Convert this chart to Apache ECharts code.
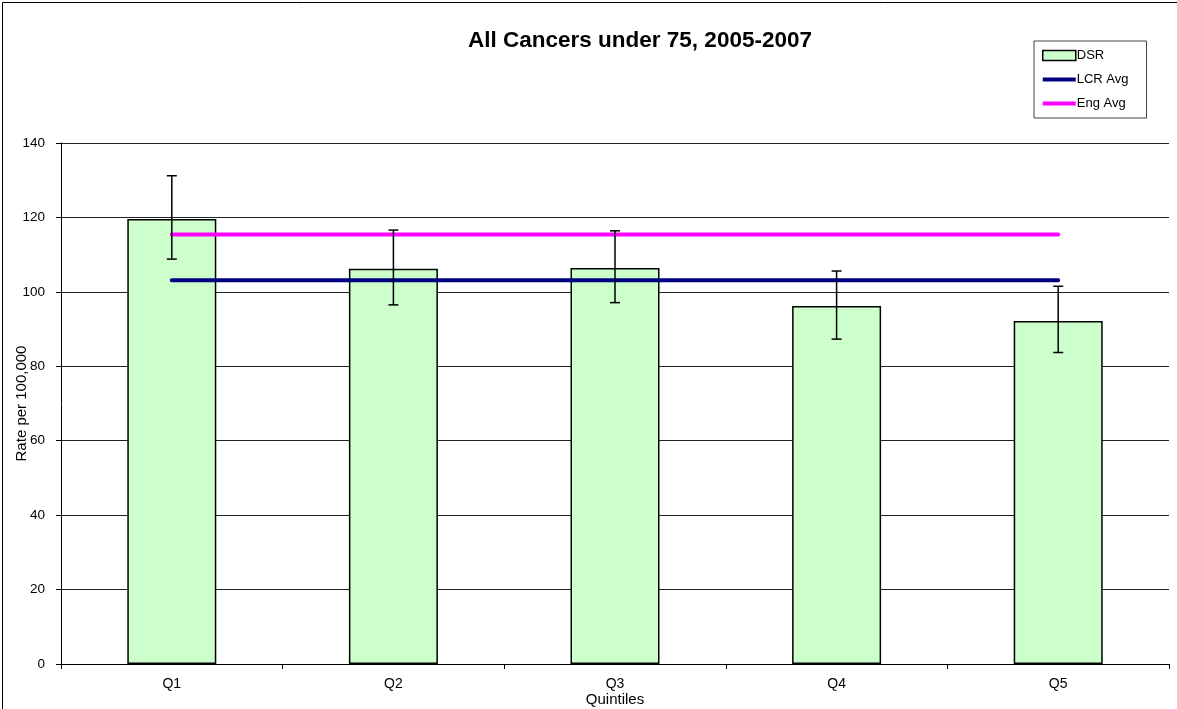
<!DOCTYPE html>
<html>
<head>
<meta charset="utf-8">
<script src="https://cdn.jsdelivr.net/npm/echarts@6/dist/echarts.min.js"></script>
<style>
html,body{margin:0;padding:0;background:#fff;}
#chart{width:1177px;height:709px;}
</style>
</head>
<body>
<div id="chart"></div>
<script>
const categories = ['Q1', 'Q2', 'Q3', 'Q4', 'Q5'];
const dsr = [119.6, 106.2, 106.4, 96.2, 92.2];
const ciLower = [108.8, 96.5, 97.1, 87.3, 83.7];
const ciUpper = [131.2, 116.6, 116.4, 105.6, 101.5];
const lcrAvg = [103.1, 103.1, 103.1, 103.1, 103.1];
const engAvg = [115.4, 115.4, 115.4, 115.4, 115.4];
const yTicks = { min: 0, max: 140, interval: 20 };

const font = 'Liberation Sans, Arial, sans-serif';
const chart = echarts.init(document.getElementById('chart'));

const errData = categories.map((c, i) => [i, ciLower[i], ciUpper[i]]);

chart.setOption({
  animation: false,
  backgroundColor: '#fff',
  title: {
    text: 'All Cancers under 75, 2005-2007',
    left: 635, top: 24, textAlign: 'center',
    textStyle: { fontFamily: font, fontSize: 22.5, fontWeight: 'bold', color: '#000' }
  },
  legend: {
    orient: 'vertical',
    left: 1034, top: 41,
    padding: [8, 18, 8, 8],
    itemGap: 11,
    itemWidth: 33, itemHeight: 14,
    borderColor: '#404040', borderWidth: 1,
    textStyle: { fontFamily: font, fontSize: 13, color: '#000', padding: [0, 0, 0, -4] },
    data: [
      { name: 'DSR', icon: 'path://M0,0H33V10H0Z', itemStyle: { color: '#CCFFCC', borderColor: '#000', borderWidth: 1.5 } },
      { name: 'LCR Avg', icon: 'path://M0,0H33V4H0Z', itemStyle: { color: '#000080', borderWidth: 0 } },
      { name: 'Eng Avg', icon: 'path://M0,0H33V4H0Z', itemStyle: { color: '#FF00FF', borderWidth: 0 } }
    ]
  },
  graphic: [{
    type: 'rect', left: 0, top: 0, z: 100, silent: true,
    shape: { x: 0.5, y: 0.5, width: 1175, height: 707 },
    style: { fill: 'none', stroke: '#000', lineWidth: 1 }
  }],
  grid: { left: 61, right: 8, top: 143, bottom: 45, containLabel: false, outerBoundsMode: 'none' },
  xAxis: {
    type: 'category',
    data: categories,
    name: 'Quintiles',
    nameLocation: 'middle',
    nameGap: 28,
    nameMoveOverlap: false,
    nameTextStyle: { fontFamily: font, fontSize: 15, color: '#000' },
    axisLine: { lineStyle: { color: '#000', width: 1 } },
    axisTick: { show: true, alignWithLabel: false, length: 5, lineStyle: { color: '#000' } },
    axisLabel: { fontFamily: font, fontSize: 14, color: '#000', margin: 13 }
  },
  yAxis: {
    type: 'value',
    min: yTicks.min, max: yTicks.max, interval: yTicks.interval,
    name: 'Rate per 100,000',
    nameLocation: 'middle',
    nameGap: 32,
    nameMoveOverlap: false,
    nameTextStyle: { fontFamily: font, fontSize: 15, color: '#000' },
    axisLine: { show: true, lineStyle: { color: '#000', width: 1 } },
    axisTick: { show: true, length: 5, lineStyle: { color: '#000' } },
    axisLabel: { fontFamily: font, fontSize: 13.5, color: '#000', margin: 16 },
    splitLine: { show: true, lineStyle: { color: '#222', width: 1 } }
  },
  series: [
    {
      name: 'DSR', type: 'bar', data: dsr,
      barWidth: 89,
      itemStyle: { color: '#CCFFCC', borderColor: '#000', borderWidth: 1.5 },
      z: 2
    },
    {
      name: 'LCR Avg', type: 'line', data: lcrAvg,
      showSymbol: false, symbol: 'none',
      lineStyle: { color: '#000080', width: 4, cap: 'round' },
      itemStyle: { color: '#000080' },
      z: 3
    },
    {
      name: 'Eng Avg', type: 'line', data: engAvg,
      showSymbol: false, symbol: 'none',
      lineStyle: { color: '#FF00FF', width: 4, cap: 'round' },
      itemStyle: { color: '#FF00FF' },
      z: 3
    },
    {
      name: 'CI', type: 'custom', data: errData, z: 4,
      renderItem: function (params, api) {
        const x = api.value(0);
        const lo = api.coord([x, api.value(1)]);
        const hi = api.coord([x, api.value(2)]);
        const w = 5;
        const st = { stroke: '#000', lineWidth: 1.5 };
        return {
          type: 'group',
          children: [
            { type: 'line', shape: { x1: hi[0], y1: hi[1], x2: lo[0], y2: lo[1] }, style: st },
            { type: 'line', shape: { x1: hi[0] - w, y1: hi[1], x2: hi[0] + w, y2: hi[1] }, style: st },
            { type: 'line', shape: { x1: lo[0] - w, y1: lo[1], x2: lo[0] + w, y2: lo[1] }, style: st }
          ]
        };
      }
    }
  ]
});
</script>
</body>
</html>
